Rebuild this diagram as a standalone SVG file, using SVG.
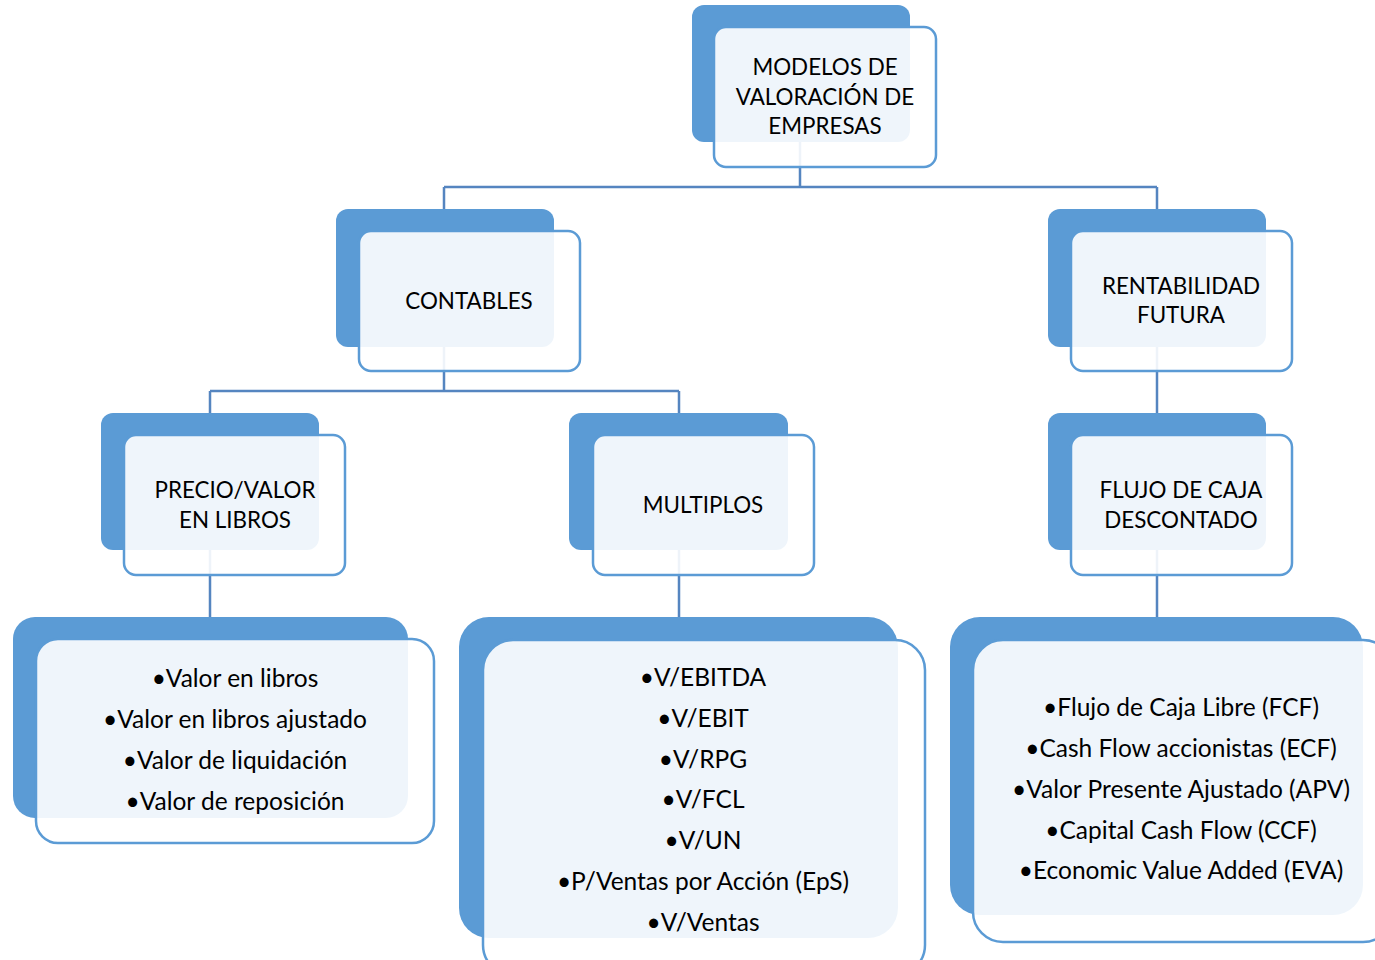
<svg xmlns="http://www.w3.org/2000/svg" width="1375" height="960" viewBox="0 0 1375 960">
<style>
.back{fill:#5B9BD5}
.front{fill:#FFFFFF;fill-opacity:0.9;stroke:#5B9BD5;stroke-width:2.5}
.conn{fill:none;stroke:#5585C0;stroke-width:2.5}
text{font-family:Lato,"Open Sans","Liberation Sans",sans-serif;font-size:22.4px;fill:#000;text-anchor:middle}
.b text{font-size:24.5px}
</style>
<rect width="1375" height="960" fill="#FFFFFF"/>
<g id="connectors">
<path class="conn" d="M800 142V187M444 187H1157M444 187V209M1157 187V209"/>
<path class="conn" d="M444 347V391M210 391H679M210 391V413M679 391V413"/>
<path class="conn" d="M1157 347V413"/>
<path class="conn" d="M210 550V617M679 550V617M1157 550V617"/>
</g>
<g id="n-root">
<rect class="back" x="692" y="5" width="218" height="137" rx="12"/>
<rect class="front" x="714" y="27" width="222" height="140" rx="12"/>
<text x="825" y="75">MODELOS DE</text>
<text x="825" y="105">VALORACIÓN DE</text>
<text x="825" y="134">EMPRESAS</text>
</g>
<g id="n-contables">
<rect class="back" x="336" y="209" width="218" height="138" rx="12"/>
<rect class="front" x="359" y="231" width="221" height="140" rx="12"/>
<text x="469" y="309">CONTABLES</text>
</g>
<g id="n-rentabilidad">
<rect class="back" x="1048" y="209" width="218" height="138" rx="12"/>
<rect class="front" x="1071" y="231" width="221" height="140" rx="12"/>
<text x="1181" y="294">RENTABILIDAD</text>
<text x="1181" y="323">FUTURA</text>
</g>
<g id="n-precio">
<rect class="back" x="101" y="413" width="218" height="137" rx="12"/>
<rect class="front" x="124" y="435" width="221" height="140" rx="12"/>
<text x="235" y="498">PRECIO/VALOR</text>
<text x="235" y="528">EN LIBROS</text>
</g>
<g id="n-multiplos">
<rect class="back" x="569" y="413" width="219" height="137" rx="12"/>
<rect class="front" x="593" y="435" width="221" height="140" rx="12"/>
<text x="703" y="513">MULTIPLOS</text>
</g>
<g id="n-flujo">
<rect class="back" x="1048" y="413" width="218" height="137" rx="12"/>
<rect class="front" x="1071" y="435" width="221" height="140" rx="12"/>
<text x="1181" y="498">FLUJO DE CAJA</text>
<text x="1181" y="528">DESCONTADO</text>
</g>
<g id="n-contables-list" class="b">
<rect class="back" x="13" y="617" width="395" height="201" rx="22"/>
<rect class="front" x="36" y="639" width="398" height="204" rx="22"/>
<text x="235" y="687">•Valor en libros</text>
<text x="235" y="728">•Valor en libros ajustado</text>
<text x="235" y="769">•Valor de liquidación</text>
<text x="235" y="810">•Valor de reposición</text>
</g>
<g id="n-multiplos-list" class="b">
<rect class="back" x="459" y="617" width="439" height="321" rx="30"/>
<rect class="front" x="483" y="640" width="442" height="335" rx="30"/>
<text x="703" y="686">•V/EBITDA</text>
<text x="703" y="727">•V/EBIT</text>
<text x="703" y="768">•V/RPG</text>
<text x="703" y="808">•V/FCL</text>
<text x="703" y="849">•V/UN</text>
<text x="703" y="890">•P/Ventas por Acción (EpS)</text>
<text x="703" y="931">•V/Ventas</text>
</g>
<g id="n-flujo-list" class="b">
<rect class="back" x="950" y="617" width="413" height="298" rx="30"/>
<rect class="front" x="973" y="640" width="420" height="302" rx="30"/>
<text x="1181" y="716">•Flujo de Caja Libre (FCF)</text>
<text x="1181" y="757">•Cash Flow accionistas (ECF)</text>
<text x="1181" y="798">•Valor Presente Ajustado (APV)</text>
<text x="1181" y="839">•Capital Cash Flow (CCF)</text>
<text x="1181" y="879">•Economic Value Added (EVA)</text>
</g>
</svg>
